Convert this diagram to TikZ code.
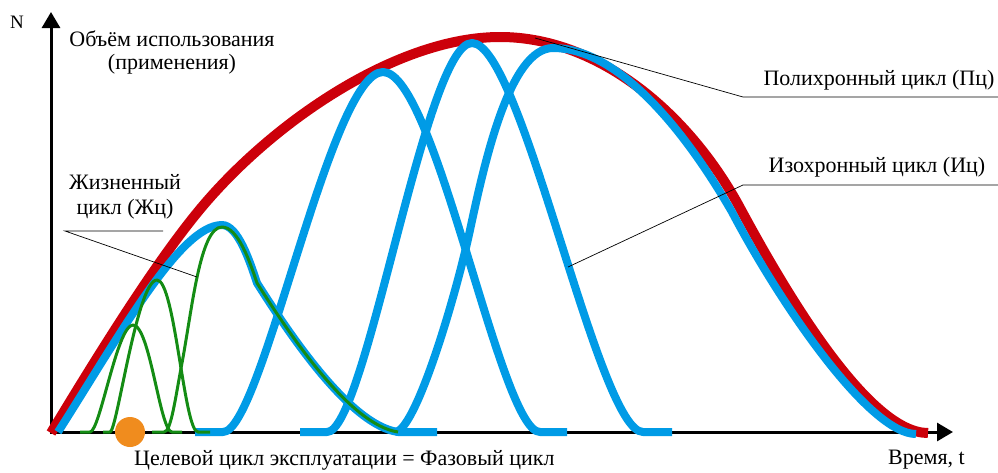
\documentclass[tikz,border=0pt]{standalone}
\usepackage{fontspec}
\setmainfont{Liberation Serif}
\usetikzlibrary{arrows.meta}
\definecolor{redc}{RGB}{204,0,10}
\definecolor{bluec}{RGB}{0,155,230}
\definecolor{greenc}{RGB}{20,140,20}
\definecolor{orangec}{RGB}{240,140,30}
\begin{document}
\begin{tikzpicture}[x=1pt,y=-1pt,
  axisline/.style={line width=3pt,black},
  polyc/.style={redc,line width=10pt,line join=round},
  isoc/.style={bluec,line width=8pt,line join=round},
  lifec/.style={greenc,line width=3pt,line join=round},
  pointer/.style={black,line width=0.7pt},
  lbl/.style={font=\fontsize{22}{25}\selectfont,inner sep=0pt,align=center}]
\useasboundingbox (0,0) rectangle (998,472);
% axes
\coordinate (O) at (51,432);
\coordinate (Ytip) at (51,12);
\coordinate (Xtip) at (953,432);
\draw[axisline,{Triangle[length=16pt,width=18pt]}-{Triangle[length=16pt,width=18pt]}] (Ytip) -- (O) -- (Xtip);
% polychronic cycle
\draw[polyc] (51,433) .. controls (100,352) and (160,255) .. (207,201)
  .. controls (280,117) and (400,37) .. (500,37)
  .. controls (600,37) and (690,115) .. (740,208)
  .. controls (790,301) and (870,433) .. (928,433);
% isochronic cycles
\draw[isoc] (58,432) .. controls (120,335) and (180,225) .. (222,225)
  .. controls (238,225) and (250,262) .. (257,283)
  .. controls (290,335) and (350,425) .. (398,432) -- (437,432);
\draw[isoc] (195,432) -- (223,432) .. controls (262,432) and (330,72) .. (383,72)
  .. controls (436,72) and (500,432) .. (540,432) -- (567,432);
\draw[isoc] (300,432) -- (327,432) .. controls (366,432) and (425,43) .. (472,43)
  .. controls (522,43) and (598,432) .. (643,432) -- (672,432);
\draw[isoc] (395,432) .. controls (415,432) and (455,300) .. (470,230)
  .. controls (485,160) and (510,48) .. (553,48)
  .. controls (615,48) and (680,122) .. (732,212)
  .. controls (782,307) and (870,434) .. (916,434);
% life cycles (green)
\draw[lifec] (80,432) -- (90,432) .. controls (100,432) and (117,325) .. (133,325)
  .. controls (150,325) and (160,432) .. (172,432) -- (182,432);
\draw[lifec] (103,432) -- (110,432) .. controls (117,432) and (137,280) .. (157,280)
  .. controls (175,280) and (184,432) .. (198,432) -- (210,432);
\draw[lifec] (152,432) -- (164,432) .. controls (171,432) and (175,400) .. (182,363)
  .. controls (192,310) and (200,227) .. (222,227)
  .. controls (238,227) and (250,262) .. (257,283)
  .. controls (290,335) and (350,425) .. (398,432);
% operating cycle marker
\node[circle,fill=orangec,minimum size=30pt,inner sep=0pt] (op) at (130,432) {};
% labels
\node[font=\fontsize{19}{22}\selectfont,inner sep=0pt] (N) at (17,22) {N};
\node[lbl,font=\fontsize{22}{23}\selectfont] (vol) at (172,52) {Объём использования\\(применения)};
\node[lbl] (zc) at (125,197) {Жизненный\\цикл (Жц)};
\node[lbl] (pc) at (879,80) {Полихронный цикл (Пц)};
\node[lbl] (ic) at (877,167) {Изохронный цикл (Иц)};
\node[lbl,anchor=west] (tgt) at (134,460) {Целевой цикл эксплуатации = Фазовый цикл};
\node[lbl,anchor=west] (time) at (888,460) {Время, t};
% pointers
\coordinate (zcR) at (163,231);
\coordinate (zcL) at (65,231);
\coordinate (zcT) at (197,277);
\draw[pointer] (zcR) -- (zcL) -- (zcT);
\coordinate (pcR) at (998,97);
\coordinate (pcL) at (743,97);
\coordinate (pcT) at (535,38);
\draw[pointer] (pcR) -- (pcL) -- (pcT);
\coordinate (icR) at (998,185);
\coordinate (icL) at (743,185);
\coordinate (icT) at (568,267);
\draw[pointer] (icR) -- (icL) -- (icT);
\end{tikzpicture}
\end{document}
